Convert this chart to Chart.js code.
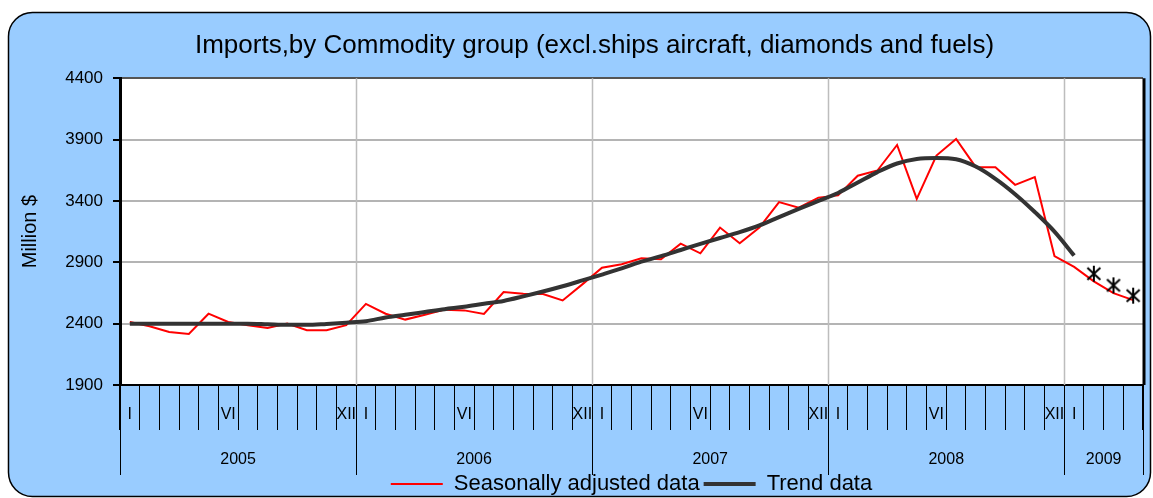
<!DOCTYPE html>
<html>
<head>
<meta charset="utf-8">
<script src="https://cdn.jsdelivr.net/npm/chart.js@4.4.0/dist/chart.umd.min.js"></script>
<style>
html, body { margin: 0; padding: 0; background: #fff; }
</style>
</head>
<body>
<canvas id="myChart" width="1153" height="498"></canvas>
<script>
'use strict';

// years on the axis and how many months each one has
var years = ['2005', '2006', '2007', '2008', '2009'];
var monthsInYear = [12, 12, 12, 12, 4];
var monthTicks = ['I', '', '', '', '', 'VI', '', '', '', '', '', 'XII'];

// million $, Jan 2005 .. Apr 2009
var seasonal = [
  2414, 2378, 2332, 2316, 2481, 2414, 2386, 2365, 2400, 2347, 2347, 2388,
  2561, 2481, 2433, 2473, 2514, 2508, 2479, 2658, 2644, 2641, 2589, 2720,
  2855, 2884, 2933, 2924, 3052, 2973, 3183, 3055, 3183, 3391, 3345, 3427,
  3445, 3605, 3648, 3856, 3416, 3770, 3905, 3675, 3675, 3531, 3594, 2951,
  2862, 2745, 2648, 2592
];
var trend = [
  2400, 2400, 2400, 2400, 2400, 2400, 2400, 2395, 2390, 2390, 2398, 2408,
  2420, 2450, 2472, 2495, 2518, 2537, 2562, 2585, 2622, 2662, 2705, 2752,
  2800, 2850, 2905, 2950, 3000, 3050, 3098, 3145, 3200, 3268, 3335, 3400,
  3465, 3550, 3635, 3705, 3742, 3750, 3740, 3680, 3580, 3455, 3310, 3150,
  2955, null, null, null
];
var trendEstimate = [
  null, null, null, null, null, null, null, null, null, null, null, null,
  null, null, null, null, null, null, null, null, null, null, null, null,
  null, null, null, null, null, null, null, null, null, null, null, null,
  null, null, null, null, null, null, null, null, null, null, null, null,
  null, 2807, 2712, 2628
];

var yTicks = [1900, 2400, 2900, 3400, 3900, 4400];

var labels = [];
var tickText = [];
years.forEach(function(y, i) {
  for (var m = 0; m < monthsInYear[i]; m++) {
    labels.push(y + '-' + (m + 1));
    tickText.push(monthTicks[m]);
  }
});

Chart.defaults.font.family = "'Liberation Sans', Arial, sans-serif";
Chart.defaults.color = '#000';

// asterisk marker
var star = document.createElement('canvas');
star.width = 18;
star.height = 18;
var sc = star.getContext('2d');
sc.strokeStyle = '#000';
sc.lineWidth = 2;
sc.beginPath();
sc.moveTo(9, 1); sc.lineTo(9, 17);
sc.moveTo(2.5, 3); sc.lineTo(15.5, 15);
sc.moveTo(15.5, 3); sc.lineTo(2.5, 15);
sc.stroke();

function yearEdges(xs) {
  var step = xs.getPixelForValue(1) - xs.getPixelForValue(0);
  var edges = [], n = 0;
  edges.push(xs.getPixelForValue(0) - step / 2);
  monthsInYear.forEach(function(c) {
    n += c;
    edges.push(xs.getPixelForValue(n - 1) + step / 2);
  });
  return edges;
}

var frame = {
  id: 'frame',
  beforeDraw: function(chart) {
    var c = chart.ctx, a = chart.chartArea;
    var x = 8.5, y = 12.5, w = 1142, h = 484, r = 24;
    c.save();
    c.beginPath();
    c.moveTo(x + r, y);
    c.arcTo(x + w, y, x + w, y + h, r);
    c.arcTo(x + w, y + h, x, y + h, r);
    c.arcTo(x, y + h, x, y, r);
    c.arcTo(x, y, x + w, y, r);
    c.closePath();
    c.fillStyle = '#99CCFF';
    c.fill();
    c.lineWidth = 1.5;
    c.strokeStyle = '#000';
    c.stroke();
    c.fillStyle = '#fff';
    c.fillRect(a.left, a.top, a.right - a.left, a.bottom - a.top);
    c.restore();
  },
  beforeDatasetsDraw: function(chart) {
    var c = chart.ctx, a = chart.chartArea;
    var e = yearEdges(chart.scales.x);
    c.save();
    c.strokeStyle = '#BDBDBD';
    c.lineWidth = 1.5;
    for (var i = 1; i < e.length - 1; i++) {
      c.beginPath();
      c.moveTo(Math.round(e[i]) + 0.5, a.top);
      c.lineTo(Math.round(e[i]) + 0.5, a.bottom);
      c.stroke();
    }
    c.restore();
  },
  afterDraw: function(chart) {
    var c = chart.ctx, a = chart.chartArea;
    var e = yearEdges(chart.scales.x);
    c.save();
    c.strokeStyle = '#000';
    c.lineWidth = 1;
    for (var i = 0; i < e.length; i++) {
      c.beginPath();
      c.moveTo(Math.round(e[i]) + 0.5, a.bottom);
      c.lineTo(Math.round(e[i]) + 0.5, a.bottom + 90);
      c.stroke();
    }
    c.font = "16px 'Liberation Sans', Arial, sans-serif";
    c.fillStyle = '#000';
    c.textAlign = 'center';
    c.textBaseline = 'middle';
    for (var j = 0; j < years.length; j++) {
      c.fillText(years[j], (e[j] + e[j + 1]) / 2, a.bottom + 75);
    }
    // right frame of the plot
    c.lineWidth = 3;
    c.beginPath();
    c.moveTo(a.right + 1, a.top);
    c.lineTo(a.right + 1, a.bottom);
    c.stroke();
    c.restore();
  }
};

var ctx = document.getElementById('myChart').getContext('2d');

var chart = new Chart(ctx, {
  type: 'line',
  data: {
    labels: labels,
    datasets: [{
      label: 'Seasonally adjusted data',
      data: seasonal,
      borderColor: '#FF0000',
      backgroundColor: '#FF0000',
      borderWidth: 2,
      pointRadius: 0,
      pointStyle: 'line',
      order: 1
    },
    {
      label: 'Trend data',
      data: trend,
      borderColor: '#333333',
      backgroundColor: '#333333',
      borderWidth: 4,
      pointRadius: 0,
      pointStyle: 'line',
      cubicInterpolationMode: 'monotone',
      order: 0
    },
    {
      label: 'estimate',
      data: trendEstimate,
      showLine: false,
      pointStyle: star,
      pointRadius: 9,
      order: 0
    }]
  },
  options: {
    responsive: false,
    animation: false,
    layout: { padding: { left: 43, right: 7, top: 0, bottom: -7 } },
    scales: {
      x: {
        offset: true,
        grid: { offset: true, drawOnChartArea: false, color: '#000', lineWidth: 1, tickLength: 45 },
        border: { color: '#000', width: 2 },
        ticks: {
          autoSkip: false,
          maxRotation: 0,
          padding: -25,
          font: { size: 16 },
          callback: function(v, i) { return tickText[i]; }
        },
        afterFit: function(s) { s.height = 84; }
      },
      y: {
        min: 1900,
        max: 4400,
        afterBuildTicks: function(s) { s.ticks = yTicks.map(function(v) { return { value: v }; }); },
        grid: {
          color: function(c) { return c.index === yTicks.length - 1 ? '#555' : '#B4B4B4'; },
          lineWidth: 2,
          tickColor: '#000',
          tickLength: 7
        },
        border: { color: '#000', width: 3 },
        ticks: {
          padding: 10,
          font: { size: 17 },
          callback: function(v) { return String(v); }
        },
        title: { display: true, text: 'Million $', font: { size: 20 }, padding: { top: -25, bottom: 0 } },
        afterFit: function(s) { s.width = 77; }
      }
    },
    plugins: {
      title: {
        display: true,
        text: 'Imports,by Commodity group (excl.ships aircraft, diamonds and fuels)',
        font: { size: 26, weight: 'normal' },
        padding: { top: 30, bottom: 17 }
      },
      legend: {
        position: 'bottom',
        fullSize: false,
        labels: {
          usePointStyle: true,
          pointStyleWidth: 52,
          font: { size: 22 },
          padding: 4,
          filter: function(item) { return item.datasetIndex < 2; },
          sort: function(a, b) { return a.datasetIndex - b.datasetIndex; }
        }
      },
      tooltip: { enabled: false }
    }
  },
  plugins: [frame]
});
</script>
</body>
</html>
